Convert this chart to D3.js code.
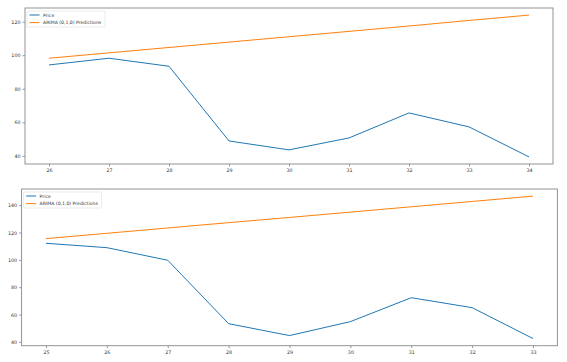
<!DOCTYPE html>
<html lang="en">
<head>
<meta charset="UTF-8">
<title>ARIMA Predictions</title>
<script src="https://cdn.jsdelivr.net/npm/d3@7"></script>
<style>
  body { margin: 0; background: #fff; }
  svg text { font-family: "DejaVu Sans", sans-serif; }
</style>
</head>
<body>
<div id="chart"></div>
<script>
// panel 1
const days1 = [26, 27, 28, 29, 30, 31, 32, 33, 34];
const price1 = [94.2, 98.2, 93.4, 48.9, 43.6, 50.7, 65.6, 57.3, 39.4];
const pred1 = [98.2, 101.4, 104.6, 107.8, 111.0, 114.2, 117.4, 120.7, 123.9];
const yTicks1 = [40, 60, 80, 100, 120];

// panel 2
const days2 = [25, 26, 27, 28, 29, 30, 31, 32, 33];
const price2 = [112.1, 108.9, 99.7, 53.3, 44.6, 54.8, 72.3, 65.0, 42.4];
const pred2 = [115.5, 119.4, 123.3, 127.2, 131.0, 134.9, 138.8, 142.7, 146.6];
const yTicks2 = [40, 60, 80, 100, 120, 140];

const seriesNames = ['Price', 'ARIMA (0,1,0) Predictions'];
const colors = ['#1f77b4', '#ff7f0e'];

const W = 567, H = 362;
const svg = d3.select('#chart').append('svg')
    .attr('width', W).attr('height', H);

function drawPanel(box, days, price, pred, yTicks) {
    const all = price.concat(pred);
    const xPad = (d3.max(days) - d3.min(days)) * 0.05;
    const yMin = d3.min(all), yMax = d3.max(all);
    const yPad = (yMax - yMin) * 0.05;

    const x = d3.scaleLinear()
        .domain([d3.min(days) - xPad, d3.max(days) + xPad])
        .range([box.left, box.right]);
    const y = d3.scaleLinear()
        .domain([yMin - yPad, yMax + yPad])
        .range([box.bottom, box.top]);

    const g = svg.append('g');

    const line = d3.line()
        .x((d, i) => x(days[i]))
        .y(d => y(d));

    [price, pred].forEach((vals, k) => {
        g.append('path')
            .datum(vals)
            .attr('d', line)
            .attr('fill', 'none')
            .attr('stroke', colors[k])
            .attr('stroke-width', 1);
    });

    // axes
    const xAxis = d3.axisBottom(x).tickValues(days).tickSize(2.5).tickPadding(2);
    const yAxis = d3.axisLeft(y).tickValues(yTicks).tickSize(2.5).tickPadding(2);

    const gx = g.append('g').attr('transform', `translate(0,${box.bottom})`).call(xAxis);
    const gy = g.append('g').attr('transform', `translate(${box.left},0)`).call(yAxis);
    [gx, gy].forEach(a => {
        a.select('.domain').remove();
        a.selectAll('line').attr('stroke', '#555').attr('stroke-width', 0.6);
        a.selectAll('text').attr('font-size', 4.8).attr('fill', '#333')
            .attr('font-family', '"DejaVu Sans", sans-serif');
    });

    // frame
    g.append('rect')
        .attr('x', box.left).attr('y', box.top)
        .attr('width', box.right - box.left)
        .attr('height', box.bottom - box.top)
        .attr('fill', 'none')
        .attr('stroke', '#888')
        .attr('stroke-width', 0.9);

    // legend
    const lg = g.append('g').attr('transform', `translate(${box.left + 2},${box.top + 3})`);
    lg.append('rect')
        .attr('width', 78).attr('height', 16)
        .attr('fill', '#fff').attr('fill-opacity', 0.8)
        .attr('stroke', '#ddd').attr('stroke-width', 0.6).attr('rx', 1);
    seriesNames.forEach((name, k) => {
        const yy = 4 + k * 7.6;
        lg.append('line')
            .attr('x1', 2.5).attr('x2', 12.5)
            .attr('y1', yy).attr('y2', yy)
            .attr('stroke', colors[k]).attr('stroke-width', 1);
        lg.append('text')
            .attr('x', 16).attr('y', yy)
            .attr('dy', '0.35em')
            .attr('font-size', 4.6)
            .attr('fill', '#333')
            .text(name);
    });
}

drawPanel({ left: 25, right: 553, top: 8, bottom: 164 }, days1, price1, pred1, yTicks1);
drawPanel({ left: 21.6, right: 557.4, top: 189, bottom: 345.7 }, days2, price2, pred2, yTicks2);
</script>
</body>
</html>
